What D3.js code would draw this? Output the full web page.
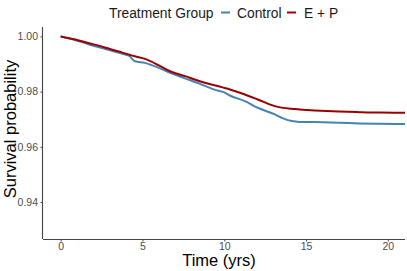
<!DOCTYPE html>
<meta charset="utf-8">
<style>
    body { margin: 0; background: #fff; }
    text { font-family: "Liberation Sans", Arial, sans-serif; }
    .line { fill: none; stroke-width: 2px; stroke-linejoin: round; }
</style>
<svg width="407" height="271"></svg>
<script src="https://d3js.org/d3.v7.min.js"></script>
<script>

    // survival curves
    var timeCtrl = [0, 0.9, 1.69, 2.7, 3.73, 4.2, 4.54, 5.15, 6.0, 6.68, 7.6, 8.51, 9.4, 10.0, 10.34, 11.26, 12.05, 13.09, 13.6, 14.13, 14.6, 15.53, 17.0, 18.28, 19.5, 21.05];
    var survCtrl = [1.0, 0.9986, 0.99718, 0.9955, 0.99375, 0.9929, 0.99097, 0.9904, 0.9886, 0.98679, 0.9848, 0.98282, 0.9807, 0.9797, 0.97859, 0.97653, 0.97415, 0.97173, 0.9703, 0.96931, 0.9690, 0.96895, 0.96875, 0.96848, 0.96835, 0.96823];

    var timeEP = [0, 0.9, 1.69, 2.7, 3.73, 4.54, 5.15, 6.0, 6.68, 7.6, 8.51, 9.4, 10.34, 11.26, 12.05, 13.09, 13.6, 14.13, 14.8, 15.53, 17.0, 18.28, 19.5, 21.05];
    var survEP = [1.0, 0.9989, 0.99762, 0.9960, 0.99422, 0.99278, 0.99184, 0.9895, 0.98736, 0.9856, 0.98375, 0.9823, 0.98076, 0.97895, 0.97715, 0.97473, 0.9741, 0.97379, 0.9734, 0.97318, 0.9728, 0.97256, 0.9724, 0.97235];

    var groups = ["Control", "E + P"];
    var colors = ["#4682b4", "#9b0000"];
    var xTicks = [0, 5, 10, 15, 20];
    var yTicks = [0.94, 0.96, 0.98, 1.00];

    var svg = d3.select("svg"),
        margin = {top: 27, right: 2, bottom: 32, left: 43},
        width = +svg.attr("width") - margin.left - margin.right,
        height = +svg.attr("height") - margin.top - margin.bottom,
        g = svg.append("g").attr("transform", "translate(" + margin.left + "," + margin.top + ")");

    var x = d3.scaleLinear().domain([-1.08, 21.05]).range([0, width]),
        y = d3.scaleLinear().domain([0.9266, 1.0034]).range([height, 0]),
        z = d3.scaleOrdinal().domain(groups).range(colors);

    var series = [
        {id: "Control", values: timeCtrl.map(function(t, i) { return {time: t, surv: survCtrl[i]}; })},
        {id: "E + P", values: timeEP.map(function(t, i) { return {time: t, surv: survEP[i]}; })}
    ];

    var line = d3.line()
        .curve(d3.curveMonotoneX)
        .x(function(d) { return x(d.time); })
        .y(function(d) { return y(d.surv); });

    // axes
    var xAxis = g.append("g")
        .attr("transform", "translate(0," + height + ")")
        .call(d3.axisBottom(x).tickValues(xTicks).tickSize(2.5).tickPadding(1.5).tickFormat(d3.format("d")));

    var yAxis = g.append("g")
        .call(d3.axisLeft(y).tickValues(yTicks).tickSize(2.5).tickPadding(2.5).tickFormat(d3.format(".2f")));

    [xAxis, yAxis].forEach(function(a) {
        a.select(".domain").attr("stroke", "#444").attr("stroke-width", 1.1);
        a.selectAll(".tick line").attr("stroke", "#444");
        a.selectAll(".tick text")
            .attr("fill", "#4d4d4d")
            .style("font-size", "10.5px")
            .style("font-family", "'Liberation Sans', Arial, sans-serif");
    });
    // plain axis lines without end ticks
    xAxis.select(".domain").attr("d", "M0,0.5H" + width);
    yAxis.select(".domain").attr("d", "M-0.5,0V" + height);

    g.selectAll(".curve")
        .data(series)
        .enter().append("path")
        .attr("class", "line")
        .attr("d", function(d) { return line(d.values); })
        .style("stroke", function(d) { return z(d.id); });

    // axis titles
    svg.append("text")
        .attr("x", 219)
        .attr("y", 266)
        .attr("text-anchor", "middle")
        .style("font-size", "16.5px")
        .attr("fill", "#000")
        .text("Time (yrs)");

    svg.append("text")
        .attr("transform", "translate(15.5,129) rotate(-90)")
        .attr("text-anchor", "middle")
        .style("font-size", "16.5px")
        .attr("fill", "#000")
        .text("Survival probability");

    // legend
    var legend = svg.append("g");
    legend.append("text")
        .attr("x", 109)
        .attr("y", 17.5)
        .style("font-size", "13.8px")
        .attr("fill", "#1a1a1a")
        .text("Treatment Group");

    var keyX = [221, 287], labX = [237, 304];
    groups.forEach(function(gr, i) {
        legend.append("line")
            .attr("x1", keyX[i]).attr("x2", keyX[i] + 9)
            .attr("y1", 12.5).attr("y2", 12.5)
            .attr("stroke", z(gr))
            .attr("stroke-width", 2);
        legend.append("text")
            .attr("x", labX[i])
            .attr("y", 17.5)
            .style("font-size", "13.8px")
            .attr("fill", "#1a1a1a")
            .text(gr);
    });

</script>
